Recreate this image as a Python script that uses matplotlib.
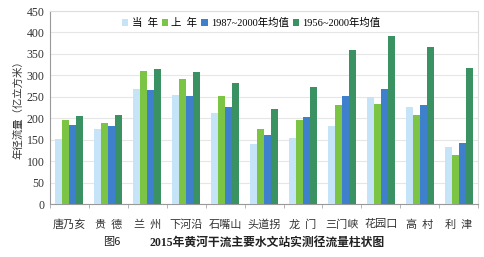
import numpy as np
import matplotlib
matplotlib.use('Agg')
import matplotlib.pyplot as plt

plt.rcParams['font.family'] = ['Liberation Serif', 'Noto Sans CJK SC', 'DejaVu Sans']

# 站点
stations = ['唐乃亥', '贵  德', '兰  州', '下河沿', '石嘴山', '头道拐',
            '龙  门', '三门峡', '花园口', '高  村', '利  津']

# 年径流量（亿立方米）
cur_year = [152, 176, 268, 254, 212, 141, 154, 181, 249, 226, 134]
last_year = [197, 188, 310, 292, 253, 176, 196, 232, 233, 207, 115]
avg_1987_2000 = [185, 181, 266, 253, 227, 161, 202, 252, 268, 231, 143]
avg_1956_2000 = [205, 208, 314, 307, 282, 222, 273, 359, 392, 366, 317]

series = [cur_year, last_year, avg_1987_2000, avg_1956_2000]
labels = ['当  年', '上  年', '1987~2000年均值', '1956~2000年均值']
colors = ['#c6e4f7', '#7cc443', '#3f80cc', '#3a9161']

fig = plt.figure(figsize=(4.85, 2.57), dpi=100)
ax = fig.add_axes([0.103, 0.206, 0.883, 0.751])

x = np.arange(len(stations))
w = 0.18
for i, (vals, lab, c) in enumerate(zip(series, labels, colors)):
    ax.bar(x + (i - 1.5) * w, vals, width=w, color=c, label=lab, zorder=3)

ax.set_xlim(-0.5, len(stations) - 0.5)
ax.set_ylim(0, 450)
ax.set_yticks(range(0, 451, 50))
ax.grid(True, axis='y', color='#e6e6e6', linewidth=0.8, zorder=0)

ax.set_xticks(x)
ax.set_xticklabels(stations, fontsize=8, family=['Noto Sans CJK SC'], color='#333333')
ax.set_xticks(np.arange(-0.5, len(stations), 1), minor=True)
ax.tick_params(axis='x', which='major', length=0, pad=11)
ax.tick_params(axis='x', which='minor', length=3, color='#aaaaaa')
ax.tick_params(axis='y', length=0, labelsize=8.5, labelcolor='#333333', pad=4)

for s in ['left', 'bottom']:
    ax.spines[s].set_color('#999999')
for s in ['top', 'right']:
    ax.spines[s].set_color('#dddddd')

ax.set_ylabel('年径流量（亿立方米）', fontsize=7.5, family=['Noto Sans CJK SC'],
              color='#333333', labelpad=2)

ax.legend(loc='upper center', bbox_to_anchor=(0.47, 1.0), ncol=4, frameon=False,
          handlelength=0.6, handleheight=0.6, handletextpad=0.3,
          columnspacing=0.4, borderaxespad=0.3,
          prop={'family': ['Liberation Serif', 'Noto Sans CJK SC'], 'size': 7.5})

fig.text(0.212, 0.045, '图6', fontsize=8, family=['Noto Sans CJK SC'], color='#222222')
fig.text(0.55, 0.045, '2015年黄河干流主要水文站实测径流量柱状图', fontsize=8.5, ha='center',
         family=['Liberation Serif', 'Noto Sans CJK SC'], fontweight='bold', color='#222222')

fig.savefig('out.png', dpi=100)
